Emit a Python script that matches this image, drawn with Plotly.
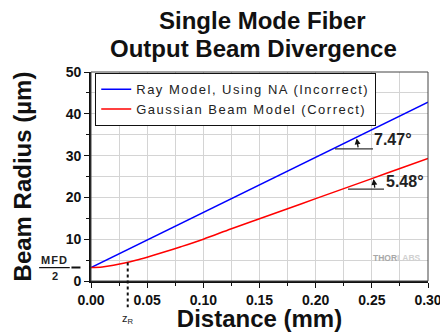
import plotly.graph_objects as go

# ---- data ----
ray_distance_mm = [0.0, 0.15, 0.30]
ray_radius_um = [3.2, 23.0, 42.8]

gauss_distance_mm = [0.0, 0.01, 0.02, 0.03, 0.04, 0.05, 0.06, 0.08, 0.10, 0.125,
                     0.15, 0.175, 0.20, 0.225, 0.25, 0.275, 0.30]
gauss_radius_um = [3.2, 3.35, 3.75, 4.3, 4.95, 5.7, 6.5, 8.2, 10.0, 12.5,
                   14.9, 17.3, 19.7, 22.1, 24.5, 26.9, 29.3]

x_ticks = [0.00, 0.05, 0.10, 0.15, 0.20, 0.25, 0.30]
y_ticks = [0, 10, 20, 30, 40, 50]
mfd_half_um = 3.2
z_r_mm = 0.0327
ray_angle_label = "7.47°"
gauss_angle_label = "5.48°"
series_names = ["Ray Model, Using NA (Incorrect)", "Gaussian Beam Model (Correct)"]

XR = [0.0, 0.30]
YR = [0.0, 50.0]
FONT = "Liberation Sans, Arial, sans-serif"


def px(x):
    return (x - XR[0]) / (XR[1] - XR[0])


def py(y):
    return (y - YR[0]) / (YR[1] - YR[0])


def spaced(t):
    return "<span style='letter-spacing:1.5px'>" + t + "</span>"


fig = go.Figure()
fig.add_trace(go.Scatter(x=ray_distance_mm, y=ray_radius_um, mode="lines",
                         line=dict(color="#0000ff", width=1.5),
                         name=spaced(series_names[0])))
fig.add_trace(go.Scatter(x=gauss_distance_mm, y=gauss_radius_um, mode="lines",
                         line=dict(color="#ff0000", width=1.5, shape="spline"),
                         name=spaced(series_names[1])))

shapes = []
annotations = []

# plot frame top/right
shapes.append(dict(type="rect", xref="paper", yref="paper", x0=0, x1=1, y0=0, y1=1,
                   line=dict(color="#444444", width=1), layer="above"))

# angle marker for ray model
bx0, bx1, by = 0.2172, 0.251, 31.6
shapes.append(dict(type="line", xref="x", yref="y", x0=bx0, x1=bx1, y0=by, y1=by,
                   line=dict(color="#333333", width=1.2)))
annotations.append(dict(x=0.2365, y=34.1, ax=0.238, ay=by, xref="x", yref="y",
                        axref="x", ayref="y", text="", showarrow=True,
                        arrowhead=2, arrowsize=0.9, arrowwidth=1.3, arrowcolor="#111"))
annotations.append(dict(x=0.2505, y=33.9, xref="x", yref="y", text="<b>" + ray_angle_label + "</b>",
                        showarrow=False, xanchor="left", yanchor="middle",
                        font=dict(family=FONT, size=16, color="#222")))

# angle marker for gaussian model
rx0, rx1, ry = 0.2288, 0.2608, 22.0
shapes.append(dict(type="line", xref="x", yref="y", x0=rx0, x1=rx1, y0=ry, y1=ry,
                   line=dict(color="#333333", width=1.2)))
annotations.append(dict(x=0.2515, y=24.4, ax=0.2528, ay=ry, xref="x", yref="y",
                        axref="x", ayref="y", text="", showarrow=True,
                        arrowhead=2, arrowsize=0.9, arrowwidth=1.3, arrowcolor="#111"))
annotations.append(dict(x=0.2605, y=23.8, xref="x", yref="y", text="<b>" + gauss_angle_label + "</b>",
                        showarrow=False, xanchor="left", yanchor="middle",
                        font=dict(family=FONT, size=16, color="#222")))

# MFD/2 marker on the left
ymfd = py(mfd_half_um)
shapes.append(dict(type="line", xref="paper", yref="paper", x0=-0.058, x1=-0.003,
                   y0=ymfd, y1=ymfd, line=dict(color="#111", width=2, dash="dash")))
shapes.append(dict(type="line", xref="paper", yref="paper", x0=-0.154, x1=-0.063,
                   y0=ymfd, y1=ymfd, line=dict(color="#111", width=1.2)))
annotations.append(dict(x=-0.108, y=ymfd, xref="paper", yref="paper",
                        text="<b><span style='letter-spacing:1px'>MFD</span></b>",
                        showarrow=False, xanchor="center", yanchor="bottom", yshift=0,
                        font=dict(family=FONT, size=11, color="#222")))
annotations.append(dict(x=-0.108, y=ymfd, xref="paper", yref="paper", text="<b>2</b>",
                        showarrow=False, xanchor="center", yanchor="top", yshift=0,
                        font=dict(family=FONT, size=11, color="#222")))

# zR marker
xzr = px(z_r_mm)
shapes.append(dict(type="line", xref="paper", yref="paper", x0=xzr, x1=xzr,
                   y0=py(4.4), y1=-0.125, line=dict(color="#111", width=2, dash="dot")))
annotations.append(dict(x=xzr, y=-0.18, xref="paper", yref="paper",
                        text="z<sub>R</sub>", showarrow=False, xanchor="center", yanchor="middle",
                        font=dict(family=FONT, size=11, color="#222")))

# watermark
annotations.append(dict(x=0.985, y=py(5.4), xref="paper", yref="paper",
                        text="<b><span style='color:#a8a8a8'>THOR</span><span style='color:#d0d0d0'>LABS</span></b>",
                        showarrow=False, xanchor="right", yanchor="middle",
                        font=dict(family=FONT, size=8.5)))

# title (two lines)
annotations.append(dict(x=(262 - 91) / 337, y=(281 - 20) / 209, xref="paper", yref="paper",
                        text="<b>Single Mode Fiber</b>", showarrow=False, xanchor="center",
                        yanchor="middle", font=dict(family=FONT, size=24, color="#111")))
annotations.append(dict(x=(253 - 91) / 337, y=(281 - 48) / 209, xref="paper", yref="paper",
                        text="<b>Output Beam Divergence</b>", showarrow=False, xanchor="center",
                        yanchor="middle", font=dict(family=FONT, size=24, color="#111")))

for a in annotations:
    fig.add_annotation(**a)

fig.update_layout(
    width=440, height=332,
    margin=dict(l=91, r=12, t=72, b=51),
    paper_bgcolor="white", plot_bgcolor="white",
    shapes=shapes,
    showlegend=True,
    legend=dict(x=0.012, y=0.995, xanchor="left", yanchor="top",
                bgcolor="white", bordercolor="#111", borderwidth=1.2,
                font=dict(family=FONT, size=13, color="#222"),
                itemwidth=30, tracegroupgap=0),
    font=dict(family=FONT, color="#111"),
)

fig.update_xaxes(
    range=XR, tickvals=x_ticks, ticktext=["<b>%.2f</b>" % v for v in x_ticks],
    showgrid=True, gridcolor="#d4d4d4", gridwidth=1,
    minor=dict(dtick=0.025, tick0=0, showgrid=True, gridcolor="#d4d4d4", gridwidth=1,
               ticks="outside", ticklen=3, tickcolor="#111"),
    ticks="outside", ticklen=5, tickcolor="#111", tickwidth=1.2,
    showline=True, linecolor="#111", linewidth=1.6,
    tickfont=dict(family=FONT, size=14, color="#111"),
    ticklabeloverflow="allow",
    zeroline=False, automargin=False,
    title=dict(text="<b>Distance (mm)</b>", font=dict(family=FONT, size=24, color="#111"), standoff=3),
)
fig.update_yaxes(
    range=YR, tickvals=y_ticks, ticktext=["<b>%d</b>" % v for v in y_ticks],
    showgrid=True, gridcolor="#d4d4d4", gridwidth=1,
    minor=dict(dtick=5, tick0=0, showgrid=True, gridcolor="#d4d4d4", gridwidth=1,
               ticks="outside", ticklen=3, tickcolor="#111"),
    ticks="outside", ticklen=5, tickcolor="#111", tickwidth=1.2,
    showline=True, linecolor="#111", linewidth=1.6,
    tickfont=dict(family=FONT, size=14, color="#111"),
    ticklabeloverflow="allow",
    zeroline=False, automargin=False,
    title=dict(text="<b>Beam Radius (µm)</b>", font=dict(family=FONT, size=24, color="#111"), standoff=27),
)

fig.write_html("out.html", config={"displayModeBar": False},
               post_script="document.body.style.margin='0';")
